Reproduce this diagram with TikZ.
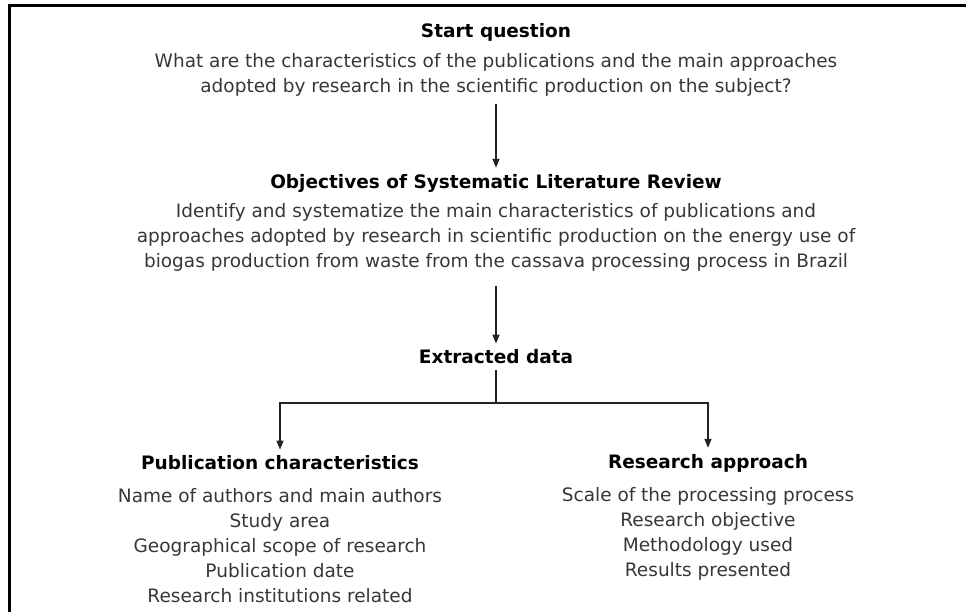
\documentclass[tikz,border=0pt]{standalone}
\usepackage{fontspec}
\setmainfont{DejaVu Sans}
\usetikzlibrary{arrows.meta}
\definecolor{textgray}{RGB}{55,55,55}
\definecolor{linegray}{RGB}{35,35,35}
\begin{document}
\begin{tikzpicture}[x=1pt,y=-1pt,
	heading/.style={font=\fontsize{18.5}{25}\selectfont\bfseries, text=black, inner sep=0pt},
	body/.style={font=\fontsize{18.5}{25}\selectfont, text=textgray, align=center, inner sep=0pt},
	link/.style={linegray, line width=1.4pt}]
	\tikzset{>={Triangle[length=9pt,width=7pt]}}
	\useasboundingbox (0,0) rectangle (966,612);
	\draw[line width=3pt] (9,612) |- (966,6);
	
	
	\coordinate (top) at (496,32);
	\coordinate (mid) at (496,183);
	\coordinate (low) at (496,357);
	\coordinate (L) at (280,463);
	\coordinate (R) at (708,463);
	
	
	\node[heading] (start) at (top) {Start question};
	\node[body] (question) at (496,74.5) {What are the characteristics of the publications and the main approaches\\adopted by research in the scientific production on the subject?};
	
	\node[heading] (objtitle) at (mid) {Objectives of Systematic Literature Review};
	\node[body] (objtext) at (496,237.5) {Identify and systematize the main characteristics of publications and\\approaches adopted by research in scientific production on the energy use of\\biogas production from waste from the cassava processing process in Brazil};
	
	\node[heading] (extracted) at (low) {Extracted data};
	
	\node[heading] (pubtitle) at (L) {Publication characteristics};
	\node[body] (pubitems) at (280,546) {Name of authors and main authors\\Study area\\Geographical scope of research\\Publication date\\Research institutions related};
	
	\node[heading] (restitle) at (R) {Research approach};
	\node[body] (resitems) at (708,533.5) {Scale of the processing process\\Research objective\\Methodology used\\Results presented};
	
	
	\coordinate (split) at (496,403);
	\draw[link,->,shorten <=8pt,shorten >=6pt] (question) -- (objtitle);
	\draw[link,->,shorten <=14pt,shorten >=6pt] (objtext) -- (extracted);
	\draw[link,shorten <=6pt] (extracted) -- (split);
	\draw[link,->,shorten >=6pt] (split) -| (pubtitle);
	\draw[link,->,shorten >=6pt] (split) -| (restitle);
	
\end{tikzpicture}
\end{document}
